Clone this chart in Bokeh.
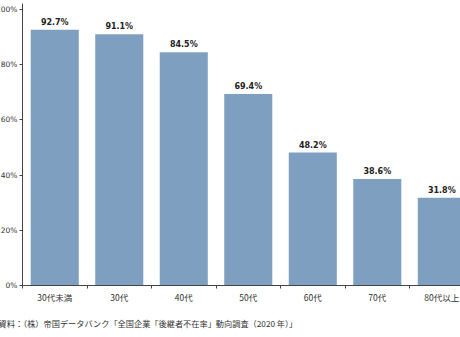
from bokeh.plotting import figure
from bokeh.models import Range1d, FixedTicker, Title, ColumnDataSource
from bokeh.core.properties import value
from bokeh.embed import file_html
from bokeh.resources import INLINE

categories = ["30代未満", "30代", "40代", "50代", "60代", "70代", "80代以上"]
rates = [92.7, 91.1, 84.5, 69.4, 48.2, 38.6, 31.8]
y_ticks = [0, 20, 40, 60, 80, 100]
caption = "資料：（株）帝国データバンク「全国企業「後継者不在率」動向調査（2020 年）」"

centers = [i + 0.5 for i in range(len(categories))]
labels = [f"{v:.1f}%" for v in rates]
src = ColumnDataSource(dict(x=centers, top=rates, label=labels))

p = figure(width=468, height=337, output_backend="svg", toolbar_location=None,
           x_range=Range1d(0, 6.79), y_range=Range1d(0, 102.2),
           min_border_left=30, min_border_right=0, min_border_top=3,
           min_border_bottom=10)
p.margin = (0, 0, 0, -8)
p.outline_line_color = None
p.xgrid.visible = False
p.ygrid.visible = False
p.background_fill_color = "white"
p.border_fill_color = "white"

p.vbar(x="x", top="top", width=0.745, bottom=0, source=src,
       fill_color="#7F9FC0", line_color=None)
p.text(x="x", y="top", text="label", source=src, text_align="center",
       text_baseline="bottom", y_offset=-3, text_font=value("DejaVu Sans"),
       text_font_size="8px", text_font_style="bold", text_color="#222222")

ax = p.xaxis[0]
ax.ticker = FixedTicker(ticks=centers, minor_ticks=list(range(len(categories) + 1)))
ax.major_label_overrides = {c: n for c, n in zip(centers, categories)}
ax.major_tick_line_color = None
ax.major_tick_out = 0
ax.major_tick_in = 0
ax.minor_tick_out = 3
ax.minor_tick_in = 0
ax.minor_tick_line_color = "#444444"
ax.axis_line_color = "#444444"
ax.major_label_text_font = "Noto Sans CJK JP"
ax.major_label_text_font_size = "8.5px"
ax.major_label_text_color = "#333333"
ax.major_label_standoff = 2

ay = p.yaxis[0]
ay.ticker = FixedTicker(ticks=y_ticks, minor_ticks=[])
ay.major_label_overrides = {t: f"{t}%" for t in y_ticks}
ay.major_tick_out = 3
ay.major_tick_in = 0
ay.major_tick_line_color = "#444444"
ay.axis_line_color = "#444444"
ay.major_label_text_font = "DejaVu Sans"
ay.major_label_text_font_size = "7.5px"
ay.major_label_text_color = "#333333"
ay.major_label_standoff = 2

t = Title(text=caption, align="left", offset=-24, text_font="Noto Sans CJK JP",
          text_font_size="8.2px", text_font_style="normal", text_color="#333333",
          standoff=18)
p.add_layout(t, "below")

open("out.html", "w").write(file_html(p, INLINE))
